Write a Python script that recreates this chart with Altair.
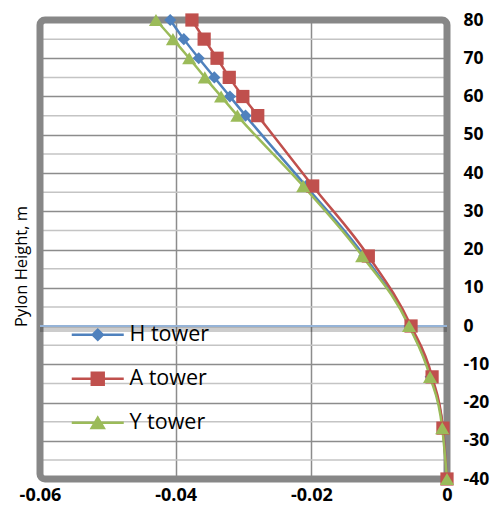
import altair as alt
import pandas as pd

# ---- data ----
heights = [80, 75, 70, 65, 60, 55, 36.6, 18.3, 0, -13.3, -26.7, -40]
h_tower = [-0.0408, -0.0388, -0.0366, -0.0343, -0.0320, -0.0297, -0.0208, -0.0122, -0.0055, -0.0024, -0.0006, 0.0]
a_tower = [-0.0376, -0.0358, -0.0339, -0.0321, -0.0301, -0.0279, -0.0198, -0.0116, -0.0053, -0.0022, -0.0006, 0.0]
y_tower = [-0.0429, -0.0404, -0.0380, -0.0357, -0.0333, -0.0309, -0.0212, -0.0125, -0.0056, -0.0025, -0.0007, 0.0]

series_names = ["H tower", "A tower", "Y tower"]
series_colors = ["#4F81BD", "#C0504D", "#9BBB59"]
series_shapes = ["diamond", "square", "triangle-up"]
series_sizes = [150, 200, 190]

x_ticks = [-0.06, -0.04, -0.02, 0]
y_ticks = [-40, -30, -20, -10, 0, 10, 20, 30, 40, 50, 60, 70, 80]
y_minor = [-35, -25, -15, -5, 5, 15, 25, 35, 45, 55, 65, 75]
zero_level = [0]

# legend symbols: a short line with the marker on it (custom SVG paths)
legend_paths = [
    "M-2.6,-0.12H2.6V0.12H-2.6Z M0,-0.68L0.68,0L0,0.68L-0.68,0Z",
    "M-2.6,-0.12H2.6V0.12H-2.6Z M-0.72,-0.72H0.72V0.72H-0.72Z",
    "M-2.6,-0.12H2.6V0.12H-2.6Z M0,-0.74L0.82,0.66H-0.82Z",
]

rows = []
for name, vals in zip(series_names, [h_tower, a_tower, y_tower]):
    for i, (h, v) in enumerate(zip(heights, vals)):
        rows.append({"series": name, "label": name, "x": v, "y": h, "idx": i})
df = pd.DataFrame(rows)
minor_df = pd.DataFrame({"v": y_minor})
zero_df = pd.DataFrame({"v": zero_level})
frame_df = pd.DataFrame({"x0": [x_ticks[0]], "x1": [x_ticks[-1]], "y0": [y_ticks[0]], "y1": [y_ticks[-1]]})

FONT = "Open Sans"

xscale = alt.Scale(domain=[x_ticks[0], x_ticks[-1]], nice=False, zero=False)
yscale = alt.Scale(domain=[y_ticks[0], y_ticks[-1]], nice=False, zero=False)

x_axis = alt.Axis(
    values=x_ticks,
    grid=True,
    gridColor="#8c8c8c",
    gridWidth=1.5,
    domain=False,
    ticks=False,
    labelFlush=False,
    labelOverlap=False,
    labelExpr="datum.value == 0 ? '0' : '-0.0' + abs(round(datum.value * 100))",
    labelFont=FONT,
    labelFontSize=18,
    labelFontWeight="bold",
    labelColor="black",
    labelPadding=7,
    title=None,
)
y_axis = alt.Axis(
    orient="right",
    values=y_ticks,
    grid=True,
    gridColor="#8c8c8c",
    gridWidth=1.5,
    domain=False,
    ticks=False,
    labelOverlap=False,
    labelBound=False,
    labelExpr="'' + datum.value",
    labelAlign="left",
    labelBaseline="middle",
    labelFont=FONT,
    labelFontSize=17.5,
    labelFontWeight="bold",
    labelColor="black",
    labelPadding=16,
    title="Pylon Height, m",
    titleFont=FONT,
    titleFontSize=16.5,
    titleFontWeight="normal",
    titleColor="black",
    titleAngle=270,
    titleAlign="center",
    titleBaseline="middle",
    titleX=-426,
    titleY=246,
)

x_enc = alt.X("x:Q", scale=xscale, axis=x_axis)
y_enc = alt.Y("y:Q", scale=yscale, axis=y_axis)

base = alt.Chart(df)

minor_grid = alt.Chart(minor_df).mark_rule(color="#c4c4c4", strokeWidth=1.5).encode(
    y=alt.Y("v:Q", scale=yscale, axis=y_axis)
)

frame = alt.Chart(frame_df).mark_rect(
    fillOpacity=0, stroke="#878787", strokeWidth=7, cornerRadius=5
).encode(
    x=alt.X("x0:Q", scale=xscale, axis=x_axis),
    x2="x1:Q",
    y=alt.Y("y0:Q", scale=yscale, axis=y_axis),
    y2="y1:Q",
)

zero_shadow = alt.Chart(zero_df).mark_rule(
    color="#000000", opacity=0.2, strokeWidth=5, yOffset=3.5
).encode(y=alt.Y("v:Q", scale=yscale, axis=y_axis))
zero_line = alt.Chart(zero_df).mark_rule(color="#95B3D7", strokeWidth=2).encode(
    y=alt.Y("v:Q", scale=yscale, axis=y_axis)
)

color_plain = alt.Color(
    "series:N",
    scale=alt.Scale(domain=series_names, range=series_colors),
    legend=None,
)

lines = base.mark_line(strokeWidth=2.5, interpolate="monotone").encode(
    x=x_enc, y=y_enc, color=color_plain, order="idx:Q"
)

points = base.mark_point(filled=True, opacity=1).encode(
    x=x_enc,
    y=y_enc,
    color=color_plain,
    shape=alt.Shape("series:N", scale=alt.Scale(domain=series_names, range=series_shapes), legend=None),
    size=alt.Size("series:N", scale=alt.Scale(domain=series_names, range=series_sizes), legend=None),
)

legend_props = dict(
    orient="none",
    legendX=47,
    legendY=304,
    title=None,
    padding=0,
    symbolSize=400,
    symbolStrokeWidth=0,
    symbolOpacity=1,
    labelFont=FONT,
    labelFontSize=21.5,
    labelColor="black",
    labelOffset=21,
    rowPadding=21,
)

legend_layer = base.mark_point(filled=True, opacity=0).encode(
    x=x_enc,
    y=y_enc,
    color=alt.Color(
        "label:N",
        scale=alt.Scale(domain=series_names, range=series_colors),
        legend=alt.Legend(**legend_props),
    ),
    shape=alt.Shape(
        "label:N",
        scale=alt.Scale(domain=series_names, range=legend_paths),
        legend=alt.Legend(**legend_props),
    ),
)

chart = (
    alt.layer(minor_grid, frame, zero_shadow, zero_line, lines, points, legend_layer)
    .resolve_scale(color="independent", shape="independent", size="independent")
    .properties(
        width=407,
        height=459,
        padding={"left": 32, "top": 12, "right": 43, "bottom": 27},
        autosize=alt.AutoSizeParams(type="none"),
        background="white",
    )
    .configure_view(strokeOpacity=0)
)

chart.save("out.html", embed_options={"renderer": "svg", "actions": False})
